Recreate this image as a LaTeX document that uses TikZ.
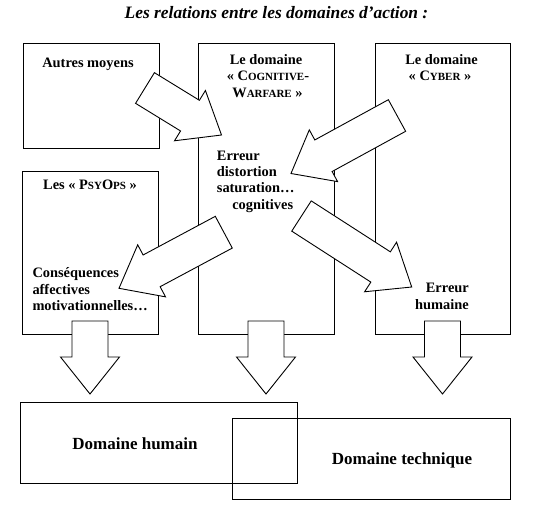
\documentclass[tikz,border=0pt]{standalone}
\usepackage{fontspec}
\setmainfont{Liberation Serif}
\usetikzlibrary{calc}
\newcommand\fsc[1]{{\fontsize{11}{11}\selectfont #1}}
% block arrow from tail coordinate #1 to tip coordinate #2
\newcommand\blkarrow[2]{%
  \coordinate (#1h) at ($(#2)!37pt!(#1)$);
  \draw[blk] ($(#1)!18pt!90:(#2)$) -- ($(#1h)!18pt!90:(#2)$) -- ($(#1h)!29.5pt!90:(#2)$)
    -- (#2) -- ($(#1h)!29.5pt!-90:(#2)$) -- ($(#1h)!18pt!-90:(#2)$)
    -- ($(#1)!18pt!-90:(#2)$) -- cycle;}
\begin{document}
\begin{tikzpicture}[x=1pt,y=-1pt,
  box/.style={draw,line width=0.9pt,anchor=north west,inner sep=0pt,outer sep=0pt},
  blk/.style={draw,fill=white,line width=0.9pt,line join=miter},
  txt/.style={font=\bfseries\fontsize{14.4}{17}\selectfont,inner sep=0pt,anchor=base},
  big/.style={font=\bfseries\fontsize{17}{20}\selectfont,inner sep=0pt,anchor=base}]
\useasboundingbox (0,0) rectangle (539,507);
% boxes
\node[box,minimum width=136pt,minimum height=105pt] (autres) at (23,43) {};
\node[box,minimum width=136pt,minimum height=291pt] (cog) at (198,43) {};
\node[box,minimum width=135pt,minimum height=291pt] (cyber) at (375,43) {};
\node[box,minimum width=136pt,minimum height=163pt] (psy) at (22,171) {};
% arrow end points
\coordinate (a1) at (145,88);    \coordinate (b1) at (221.5,135);
\coordinate (a2) at (397,115.5); \coordinate (b2) at (291,173.5);
\coordinate (a3) at (223.8,232.2); \coordinate (b3) at (119,288.3);
\coordinate (a4) at (301.5,216); \coordinate (b4) at (411.7,287);
\coordinate (d1) at (90,321);    \coordinate (e1) at (90,394);
\coordinate (d2) at (266,321);   \coordinate (e2) at (266,394);
\coordinate (d3) at (442.5,321); \coordinate (e3) at (442.5,394);
\blkarrow{a1}{b1}
\blkarrow{a2}{b2}
\blkarrow{a3}{b3}
\blkarrow{a4}{b4}
\blkarrow{d1}{e1}
\blkarrow{d2}{e2}
\blkarrow{d3}{e3}
% bottom domains
\node[box,minimum width=277pt,minimum height=81pt] (hum) at (20,402) {};
\node[box,minimum width=278pt,minimum height=81pt] (tech) at (232,418) {};
% texts
\node[font=\bfseries\itshape\fontsize{17.4}{20}\selectfont,inner sep=0pt,anchor=base] (title) at (276.5,18) {Les relations entre les domaines d’action :};
\node[txt] (t1) at (88,67) {Autres moyens};
\node[txt] (t2) at (266,64) {Le domaine};
\node[txt] (t3) at (268,80) {«~C\fsc{OGNITIVE}-};
\node[txt] (t4) at (267.5,97) {W\fsc{ARFARE}~»};
\node[txt] (t5) at (441.5,64) {Le domaine};
\node[txt] (t6) at (440,80) {«~C\fsc{YBER}~»};
\node[txt] (t7) at (90,189.3) {Les «~P\fsc{SY}O\fsc{PS}~»};
\node[txt,anchor=base west] (t8) at (216.7,160) {Erreur};
\node[txt,anchor=base west] (t9) at (216.7,176.7) {distortion};
\node[txt,anchor=base west] (t10) at (216.7,192.7) {saturation…};
\node[txt,anchor=base east] (t11) at (293.3,209) {cognitives};
\node[txt,anchor=base west] (t12) at (32.3,277.7) {Conséquences};
\node[txt,anchor=base west] (t13) at (32.3,294) {affectives};
\node[txt,anchor=base west] (t14) at (32.3,310.7) {motivationnelles…};
\node[txt,anchor=base east] (t15) at (469,292.3) {Erreur};
\node[txt,anchor=base east] (t16) at (469,309) {humaine};
\node[big] (t17) at (135,449) {Domaine humain};
\node[big] (t18) at (402,464) {Domaine technique};
\end{tikzpicture}
\end{document}
